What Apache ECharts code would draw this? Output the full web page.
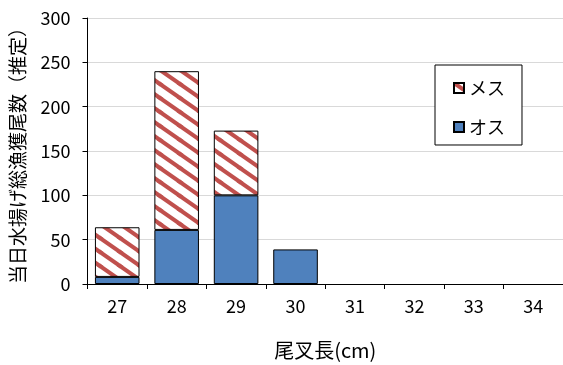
<!DOCTYPE html>
<html>
<head>
<meta charset="utf-8">
<script src="https://cdn.jsdelivr.net/npm/echarts@6/dist/echarts.min.js"></script>
<style>
  html, body { margin: 0; padding: 0; background: #fff; }
  #chart { width: 563px; height: 365px; }
</style>
</head>
<body>
<div id="chart"></div>
<script>
// Fork length classes (cm)
const lengths = ['27', '28', '29', '30', '31', '32', '33', '34'];
// Estimated landed catch per class
const males   = [8, 61, 100, 39, 0, 0, 0, 0];   // オス
const females = [56, 179, 73, 0, 0, 0, 0, 0];   // メス
const yTicks = { min: 0, max: 300, interval: 50 };

const FONT = '"Noto Sans CJK JP", "Noto Sans", sans-serif';

// Red diagonal hatch tile for the female series
function hatchPattern() {
  const w = 20, h = 14;
  const c = document.createElement('canvas');
  c.width = w; c.height = h;
  const g = c.getContext('2d');
  g.fillStyle = '#ffffff';
  g.fillRect(0, 0, w, h);
  g.strokeStyle = '#c0504d';
  g.lineWidth = 4;
  for (const [dx, dy] of [[0, 0], [-w, 0], [w, 0], [0, -h], [0, h]]) {
    g.beginPath();
    g.moveTo(dx - w, dy - h);
    g.lineTo(dx + 2 * w, dy + 2 * h);
    g.stroke();
  }
  return { image: c, repeat: 'repeat' };
}

// Empty classes are left undrawn so no zero-height segment shows
const asBars = arr => arr.map(v => (v === 0 ? '-' : v));

const chart = echarts.init(document.getElementById('chart'), null, { renderer: 'canvas' });
chart.setOption({
  animation: false,
  textStyle: { fontFamily: FONT, color: '#000' },
  grid: { left: 87.5, right: -3, top: 18, bottom: 80.5, containLabel: false },
  legend: {
    data: ['メス', 'オス'],
    orient: 'vertical',
    left: 435, top: 65,
    padding: [14, 17, 9, 18],
    itemGap: 21,
    itemWidth: 10, itemHeight: 10,
    icon: 'rect',
    borderColor: '#000', borderWidth: 1,
    backgroundColor: '#fff',
    textStyle: { fontFamily: FONT, fontSize: 18, color: '#000' }
  },
  xAxis: {
    type: 'category',
    data: lengths,
    name: '尾叉長(cm)',
    nameLocation: 'middle',
    nameGap: 56,
    nameTextStyle: { fontFamily: FONT, fontSize: 20, color: '#000', verticalAlign: 'top' },
    axisLine: { lineStyle: { color: '#000', width: 1 } },
    axisTick: { show: true, length: 5, inside: false, lineStyle: { color: '#000' } },
    axisLabel: { fontFamily: FONT, fontSize: 18, color: '#000', margin: 13 },
    splitLine: { show: false }
  },
  yAxis: {
    type: 'value',
    min: yTicks.min, max: yTicks.max, interval: yTicks.interval,
    name: '当日水揚げ総漁獲尾数（推定）',
    nameLocation: 'middle',
    nameGap: 60,
    nameRotate: 90,
    nameTextStyle: { fontFamily: FONT, fontSize: 19, color: '#000' },
    axisLine: { show: true, lineStyle: { color: '#000', width: 1 } },
    axisTick: { show: true, length: 5, lineStyle: { color: '#000' } },
    axisLabel: { fontFamily: FONT, fontSize: 18, color: '#000', margin: 17 },
    splitLine: { show: true, lineStyle: { color: '#d9d9d9', width: 1 } }
  },
  series: [
    {
      name: 'オス',
      type: 'bar',
      stack: 'total',
      data: asBars(males),
      barCategoryGap: '25%',
      itemStyle: { color: '#4f81bd', borderColor: '#000', borderWidth: 1 }
    },
    {
      name: 'メス',
      type: 'bar',
      stack: 'total',
      data: asBars(females),
      barCategoryGap: '25%',
      itemStyle: { color: hatchPattern(), borderColor: '#000', borderWidth: 1 }
    }
  ]
});
</script>
</body>
</html>
